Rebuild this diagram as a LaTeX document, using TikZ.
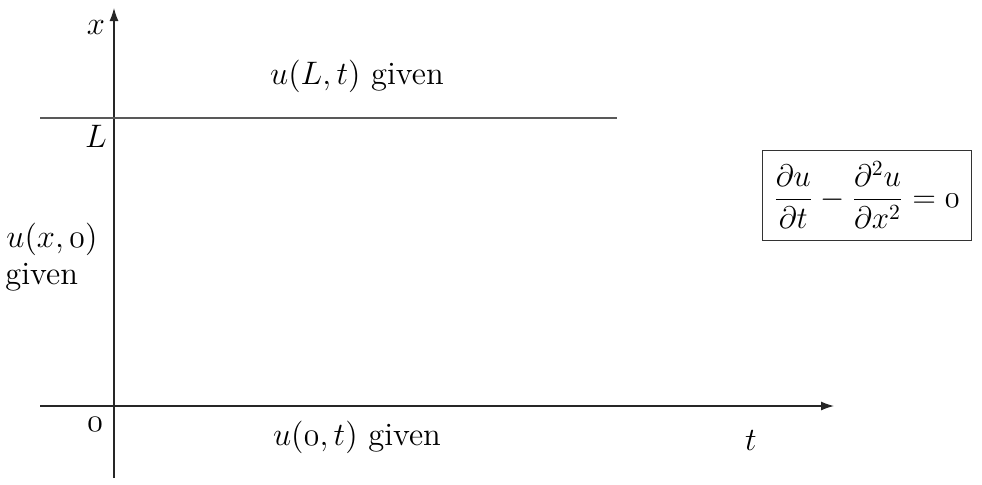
\documentclass[tikz,border=0pt]{standalone}
\usetikzlibrary{arrows.meta}
\newcommand{\oz}{\mathnormal{0}}
\newcommand{\sz}[1]{\scalebox{1.13}{#1}}
\begin{document}
\begin{tikzpicture}[x=0.5pt,y=-0.5pt,
  axis/.style={line width=0.6pt,draw=black!85,-{Latex[length=6.5pt,width=4.5pt]}},
  bound/.style={line width=0.65pt,draw=black!65},
  lbl/.style={inner sep=0pt,font=\Large},
  eqbox/.style={draw=black!80,line width=0.5pt,inner xsep=1pt,inner ysep=3pt,font=\Large}]
\useasboundingbox (0,0) rectangle (982,484);
% axes
\coordinate (vbot) at (114,478);
\coordinate (vtop) at (114,8);
\coordinate (hleft) at (40,406);
\coordinate (hright) at (834,406);
\coordinate (lleft) at (40,118);
\coordinate (lright) at (617,118);
\draw[axis] (vbot) -- (vtop);
\draw[axis] (hleft) -- (hright);
\draw[bound] (lleft) -- (lright);
% labels
\node[lbl] (xl) at (96,27) {\sz{$x$}};
\node[lbl] (Ll) at (96,136) {\sz{$L$}};
\node[lbl] (zl) at (95,424) {\sz{$\oz$}};
\node[lbl] (tl) at (751,440) {\sz{$t$}};
\node[lbl] (top) at (357,76) {\sz{$u(L,t)$ given}};
\node[lbl] (bot) at (357,437) {\sz{$u(\oz,t)$ given}};
\node[lbl,anchor=west] (left1) at (6,239) {\sz{$u(x,\oz)$}};
\node[lbl,anchor=west] (left2) at (5,277) {\sz{given}};
\node[eqbox,minimum width=104.5pt,minimum height=45pt] (eq) at (866.5,195) {\scalebox{1.08}{$\displaystyle\frac{\partial u}{\partial t}-\frac{\partial^2 u}{\partial x^2}=\oz$}};
\end{tikzpicture}
\end{document}
